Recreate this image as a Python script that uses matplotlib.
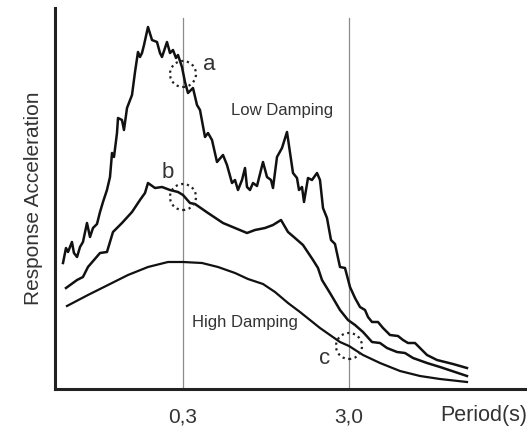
import matplotlib
matplotlib.use("Agg")
import matplotlib.pyplot as plt
from matplotlib.patches import Circle
from matplotlib.ticker import NullLocator
from matplotlib.transforms import ScaledTranslation

plt.rcParams["font.family"] = ["Liberation Sans", "DejaVu Sans"]

# periods (s) and response acceleration (arbitrary units)
low_period = [0.0568, 0.0592, 0.0609, 0.0643, 0.0661, 0.0690, 0.0719, 0.0749, 0.0792, 0.0826,
              0.0861, 0.0910, 0.0949, 0.0989, 0.1045, 0.1090, 0.1121, 0.1152, 0.1201, 0.1218,
              0.1287, 0.1323, 0.1380, 0.1479, 0.1542, 0.1607, 0.1652, 0.1699, 0.1747, 0.1846,
              0.1952, 0.2092, 0.2180, 0.2242, 0.2403, 0.2505, 0.2612, 0.2722, 0.2799, 0.2958,
              0.3084, 0.3215, 0.3446, 0.3643, 0.3798, 0.4071, 0.4244, 0.4486, 0.4808, 0.5225,
              0.5523, 0.5920, 0.6172, 0.6434, 0.6801, 0.7090, 0.7289, 0.7598, 0.7922, 0.8374,
              0.9100, 0.9620, 1.0168, 1.0454, 1.1051, 1.1845, 1.2695, 1.3797, 1.4582, 1.4994,
              1.5631, 1.6071, 1.6988, 1.7957, 1.9246, 2.0063, 2.0916, 2.2109, 2.3371, 2.4705,
              2.6477, 2.8381, 3.042, 3.261, 3.495, 3.746, 3.905, 4.127, 4.485, 4.808,
              5.298, 5.920, 6.345, 6.800, 7.494, 8.031, 8.85, 10.17, 12.69, 15.41]
low_acc = [126, 141, 137, 147, 136, 132, 142, 147, 166, 152,
           161, 165, 177, 187, 199, 212, 236, 232, 256, 271,
           269, 259, 281, 294, 317, 337, 332, 336, 344, 362,
           349, 347, 336, 332, 347, 336, 339, 331, 334, 322,
           307, 296, 301, 284, 279, 252, 256, 249, 227, 234,
           224, 206, 209, 199, 209, 221, 202, 199, 206, 203,
           227, 212, 209, 201, 232, 241, 257, 216, 211, 199,
           202, 187, 211, 209, 216, 209, 181, 171, 149, 145,
           122, 121, 102, 91, 82, 79, 72, 67, 67, 61,
           54, 53, 49, 46, 46, 41, 34, 29, 25, 21]

mid_period = [0.0592, 0.0690, 0.0749, 0.0803, 0.0949, 0.1045, 0.1136, 0.1287, 0.1479, 0.1652,
              0.1771, 0.1846, 0.2035, 0.2242, 0.2505, 0.2799, 0.3, 0.3306, 0.3543, 0.4244,
              0.5225, 0.6172, 0.7289, 0.8144, 0.9356, 1.0454, 1.1681, 1.2872, 1.4185, 1.5849,
              1.8208, 1.9515, 2.0629, 2.3050, 2.6477, 2.9586, 3.261, 3.643, 4.127, 4.612,
              5.081, 5.838, 6.522, 7.29, 8.85, 10.60, 15.41]
mid_acc = [101, 109, 112, 122, 136, 137, 157, 166, 177, 189,
           196, 206, 201, 202, 199, 197, 194, 186, 185, 176,
           166, 161, 156, 159, 161, 164, 169, 157, 151, 144,
           129, 121, 109, 96, 79, 69, 64, 57, 47, 46,
           41, 37, 36, 31, 26, 22, 13]

high_period = [0.0600, 0.0803, 0.1060, 0.1399, 0.1846, 0.2437, 0.3, 0.3905, 0.4875, 0.6172,
               0.7391, 0.9100, 1.0748, 1.2872, 1.5204, 2.0063, 2.6477, 3.0, 3.643, 4.612,
               6.087, 8.031, 10.60, 15.41]
high_acc = [83, 94, 104, 114, 122, 127, 127, 126, 122, 116,
            110, 105, 97, 86, 77, 61, 47, 43, 34, 26,
            18, 13, 10, 7]

tick_periods = [0.3, 3.0]
tick_labels = ["0,3", "3,0"]

line_color = "#111111"
text_color = "#333333"

fig = plt.figure(figsize=(5.27, 4.29), dpi=100)
ax = fig.add_axes([55 / 527, 40 / 429, 472 / 527, 381 / 429])

ax.set_xscale("log")
ax.set_xlim(0.05083, 35.43)
ax.set_ylim(0, 381)

for p in tick_periods:
    ax.axvline(p, ymin=0, ymax=0.974, color="#8c8c8c", lw=0.9, zorder=1)

ax.plot(low_period, low_acc, color=line_color, lw=1.8, zorder=3)
ax.plot(mid_period, mid_acc, color=line_color, lw=1.8, zorder=3)
ax.plot(high_period, high_acc, color=line_color, lw=1.6, zorder=3)

# dotted circles marking the crossing points
for (cx, cy) in [(0.3, 315), (0.3, 192), (3.0, 43)]:
    tr = fig.dpi_scale_trans + ScaledTranslation(cx, cy, ax.transData)
    ax.add_patch(Circle((0, 0), 0.13, transform=tr, fill=False, ec="#222222",
                        lw=1.6, linestyle=(0, (1, 1.6)), zorder=4))

ax.text(0.430, 324, "a", fontsize=16, color=text_color, ha="center", va="center")
ax.text(0.2436, 217, "b", fontsize=16, color=text_color, ha="center", va="center")
ax.text(2.15, 31, "c", fontsize=16, color=text_color, ha="center", va="center")
ax.text(1.184, 279, "Low Damping", fontsize=12, color=text_color, ha="center", va="center")
ax.text(0.709, 66, "High Damping", fontsize=12, color=text_color, ha="center", va="center")

ax.set_xticks(tick_periods)
ax.set_xticklabels(tick_labels)
ax.xaxis.set_minor_locator(NullLocator())
ax.set_yticks([])
ax.tick_params(axis="x", length=0, pad=13, labelsize=15, labelcolor=text_color)

for side in ["top", "right"]:
    ax.spines[side].set_visible(False)
for side in ["left", "bottom"]:
    ax.spines[side].set_linewidth(2.2)
    ax.spines[side].set_color("#222222")

fig.text(440 / 527, 1 - 415 / 429, "Period(s)", fontsize=15.5, color=text_color,
         ha="left", va="center")
fig.text(34 / 527, 1 - 198 / 429, "Response Acceleration", fontsize=15, color=text_color,
         rotation=90, ha="center", va="center")

fig.savefig("out.png", dpi=100)
